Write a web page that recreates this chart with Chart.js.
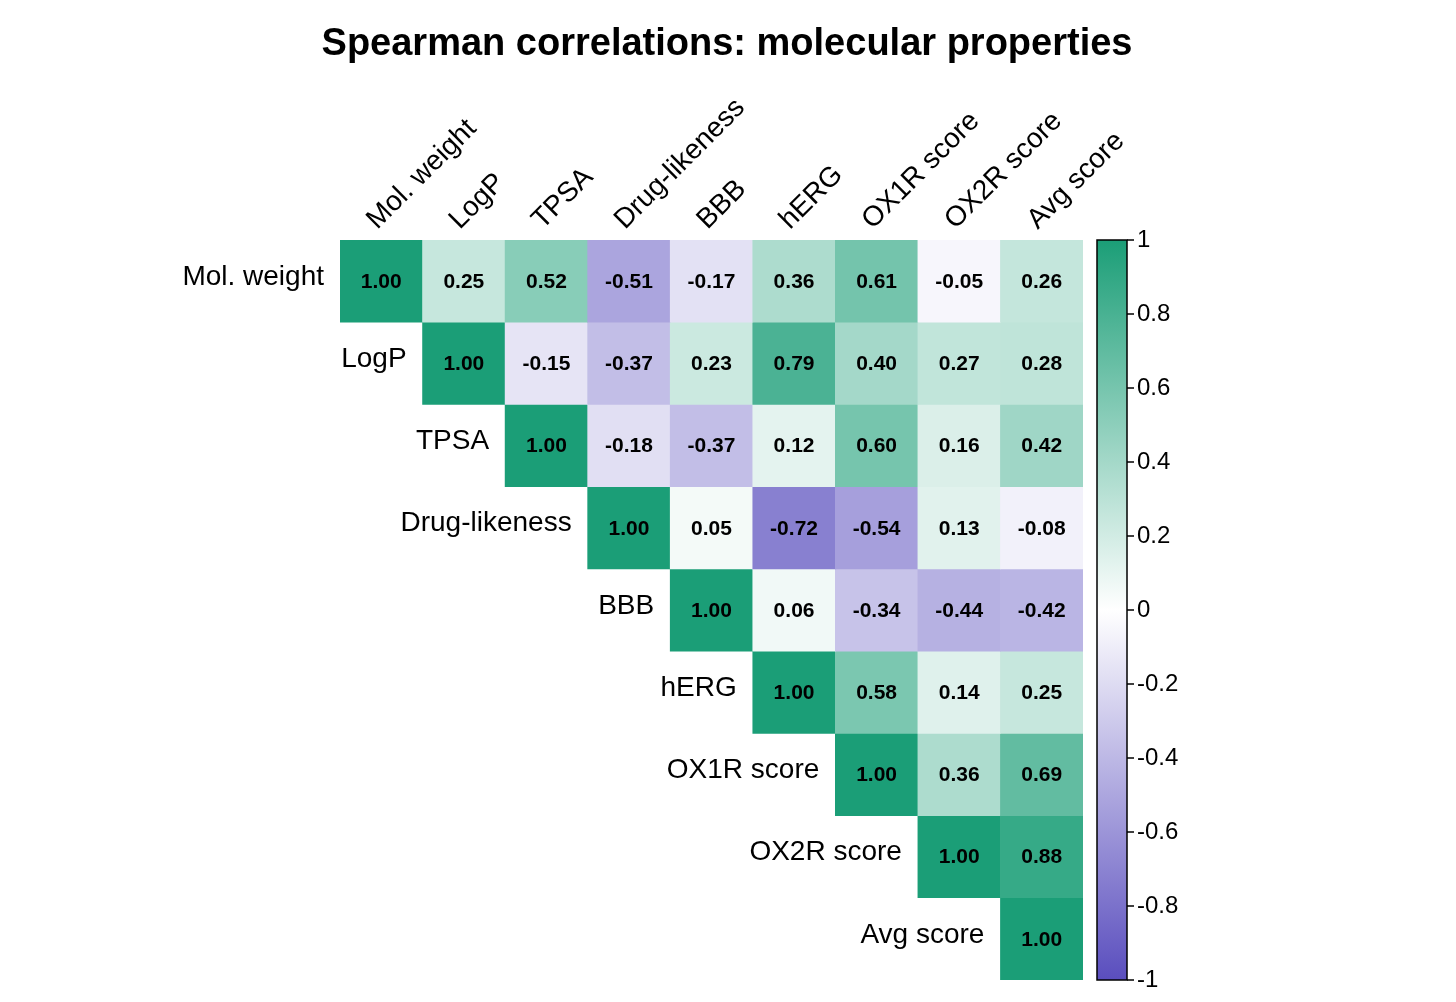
<!DOCTYPE html>
<html>
<head>
<meta charset="utf-8">
<script src="https://cdn.jsdelivr.net/npm/chart.js@4/dist/chart.umd.min.js"></script>
<style>
  html, body { margin: 0; padding: 0; background: #fff; }
  #wrap { width: 1456px; height: 1002px; }
</style>
</head>
<body>
<div id="wrap"><canvas id="chart" width="1456" height="1002"></canvas></div>
<script>
// variables (same order for rows and columns)
const variables = ["Mol. weight", "LogP", "TPSA", "Drug-likeness", "BBB", "hERG", "OX1R score", "OX2R score", "Avg score"];

// upper triangle of the correlation matrix, row i starts at column i
const rowMolWeight = [1.00, 0.25, 0.52, -0.51, -0.17, 0.36, 0.61, -0.05, 0.26];
const rowLogP = [1.00, -0.15, -0.37, 0.23, 0.79, 0.40, 0.27, 0.28];
const rowTPSA = [1.00, -0.18, -0.37, 0.12, 0.60, 0.16, 0.42];
const rowDrugLikeness = [1.00, 0.05, -0.72, -0.54, 0.13, -0.08];
const rowBBB = [1.00, 0.06, -0.34, -0.44, -0.42];
const rowHERG = [1.00, 0.58, 0.14, 0.25];
const rowOX1R = [1.00, 0.36, 0.69];
const rowOX2R = [1.00, 0.88];
const rowAvg = [1.00];
const upperRows = [rowMolWeight, rowLogP, rowTPSA, rowDrugLikeness, rowBBB, rowHERG, rowOX1R, rowOX2R, rowAvg];

// colour bar ticks
const colorbarTicks = [1, 0.8, 0.6, 0.4, 0.2, 0, -0.2, -0.4, -0.6, -0.8, -1];

const posColor = [27, 158, 119];
const negColor = [90, 78, 190];
function colorFor(v) {
    const end = v >= 0 ? posColor : negColor;
    const t = Math.min(1, Math.abs(v));
    const c = end.map(e => Math.round(255 + (e - 255) * t));
    return `rgb(${c[0]},${c[1]},${c[2]})`;
}

const n = variables.length;
const datasets = upperRows.map((vals, i) => {
    const data = variables.map((_, j) => (j >= i ? [i, i + 1] : null));
    const colors = variables.map((_, j) => (j >= i ? colorFor(vals[j - i]) : "transparent"));
    return {
        label: variables[i],
        data: data,
        values: vals,
        rowIndex: i,
        backgroundColor: colors,
        borderWidth: 0,
        barPercentage: 1.0,
        categoryPercentage: 1.0,
        grouped: false,
    };
});

const FONT = "'Liberation Sans', Arial, sans-serif";

const decorPlugin = {
    id: "decor",
    afterDatasetsDraw(chart) {
        const { ctx, scales } = chart;
        const xs = scales.x, ys = scales.y;
        const cw = xs.getPixelForValue(1) - xs.getPixelForValue(0);

        // cell values
        ctx.save();
        ctx.fillStyle = "#000";
        ctx.font = `bold 21px ${FONT}`;
        ctx.textAlign = "center";
        ctx.textBaseline = "middle";
        chart.data.datasets.forEach((ds, di) => {
            const meta = chart.getDatasetMeta(di);
            meta.data.forEach((bar, j) => {
                if (j < ds.rowIndex) return;
                const v = ds.values[j - ds.rowIndex];
                const cy = ys.getPixelForValue(ds.rowIndex + 0.5);
                ctx.fillText(v.toFixed(2), bar.x, cy + 1);
            });
        });

        // row labels, left of the diagonal cell
        ctx.font = `28px ${FONT}`;
        ctx.textAlign = "right";
        variables.forEach((name, i) => {
            const x = xs.getPixelForValue(i) - cw / 2 - 16;
            const y = ys.getPixelForValue(i + 0.5) - 4;
            ctx.fillText(name, x, y);
        });

        // column labels, rotated
        ctx.textAlign = "left";
        ctx.textBaseline = "alphabetic";
        variables.forEach((name, j) => {
            const x = xs.getPixelForValue(j) - 4;
            const y = ys.getPixelForValue(0) - 10;
            ctx.save();
            ctx.translate(x, y);
            ctx.rotate(-Math.PI / 4);
            ctx.fillText(name, 0, 0);
            ctx.restore();
        });

        // title
        ctx.font = `bold 38px ${FONT}`;
        ctx.textAlign = "center";
        ctx.textBaseline = "middle";
        ctx.fillText("Spearman correlations: molecular properties", 727, 45);

        // colour bar
        const top = ys.getPixelForValue(0), bottom = ys.getPixelForValue(n);
        const left = xs.getPixelForValue(n - 1) + cw / 2 + 14, width = 30;
        const grad = ctx.createLinearGradient(0, top, 0, bottom);
        grad.addColorStop(0, colorFor(1));
        grad.addColorStop(0.5, colorFor(0));
        grad.addColorStop(1, colorFor(-1));
        ctx.fillStyle = grad;
        ctx.fillRect(left, top, width, bottom - top);
        ctx.strokeStyle = "#000";
        ctx.lineWidth = 1.5;
        ctx.strokeRect(left, top, width, bottom - top);
        ctx.fillStyle = "#000";
        ctx.font = `24px ${FONT}`;
        ctx.textAlign = "left";
        colorbarTicks.forEach(t => {
            const y = top + (1 - t) / 2 * (bottom - top);
            ctx.beginPath();
            ctx.moveTo(left + width, y);
            ctx.lineTo(left + width + 7, y);
            ctx.stroke();
            ctx.fillText(String(t), left + width + 10, y);
        });
        ctx.restore();
    }
};

new Chart(document.getElementById("chart").getContext("2d"), {
    type: "bar",
    data: { labels: variables, datasets: datasets },
    options: {
        responsive: false,
        animation: false,
        layout: { padding: { left: 340, right: 373, top: 240, bottom: 22 } },
        plugins: { legend: { display: false }, tooltip: { enabled: false }, title: { display: false } },
        scales: {
            x: { display: false, offset: true, grid: { display: false } },
            y: { display: false, min: 0, max: n, reverse: true, grid: { display: false } },
        },
    },
    plugins: [decorPlugin],
});
</script>
</body>
</html>
